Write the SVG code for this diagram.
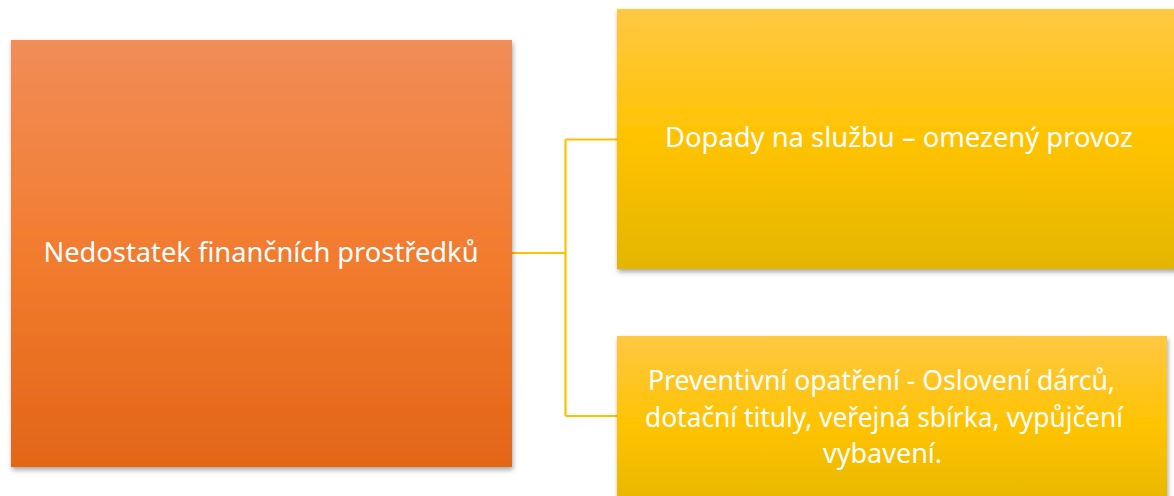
<svg xmlns="http://www.w3.org/2000/svg" width="1174" height="496" viewBox="0 0 1174 496">
<defs>
<linearGradient id="gO" x1="0" y1="0" x2="0" y2="1">
<stop offset="0" stop-color="#F18D58"/>
<stop offset="0.5" stop-color="#F27C2F"/>
<stop offset="1" stop-color="#E36518"/>
</linearGradient>
<linearGradient id="gY" x1="0" y1="0" x2="0" y2="1">
<stop offset="0" stop-color="#FFC843"/>
<stop offset="0.5" stop-color="#FFC300"/>
<stop offset="1" stop-color="#E4B500"/>
</linearGradient>
<filter id="sh" x="-10%" y="-10%" width="120%" height="125%">
<feDropShadow dx="1" dy="3" stdDeviation="2.5" flood-color="#000" flood-opacity="0.35"/>
</filter>
<style>
.t{font-family:"Noto Sans","Open Sans",sans-serif;font-size:28px;fill:#FFFFFF;text-anchor:middle}
.c{fill:none;stroke:#FFC000;stroke-width:2.2}
</style>
</defs>
<rect width="1174" height="496" fill="#FFFFFF"/>
<g id="connectors">
<path class="c" d="M512,253 H565.5 M565.5,139.5 V416 M565.5,139.5 H617 M565.5,416 H617"/>
</g>
<g id="node-main">
<rect x="11" y="40" width="501" height="427" fill="url(#gO)" filter="url(#sh)"/>
<text class="t" x="261" y="262" textLength="435" lengthAdjust="spacingAndGlyphs">Nedostatek finančních prostředků</text>
</g>
<g id="node-impact">
<rect x="617" y="9" width="570" height="260" fill="url(#gY)" filter="url(#sh)"/>
<text class="t" x="899" y="147" textLength="468" lengthAdjust="spacingAndGlyphs">Dopady na službu – omezený provoz</text>
</g>
<g id="node-prevention">
<rect x="617" y="336" width="550" height="180" fill="url(#gY)" filter="url(#sh)"/>
<text class="t" x="881.5" y="390" textLength="467" lengthAdjust="spacingAndGlyphs">Preventivní opatření - Oslovení dárců,</text>
<text class="t" x="884" y="427" textLength="478" lengthAdjust="spacingAndGlyphs">dotační tituly, veřejná sbírka, vypůjčení</text>
<text class="t" x="882.5" y="463" textLength="119" lengthAdjust="spacingAndGlyphs">vybavení.</text>
</g>
</svg>
